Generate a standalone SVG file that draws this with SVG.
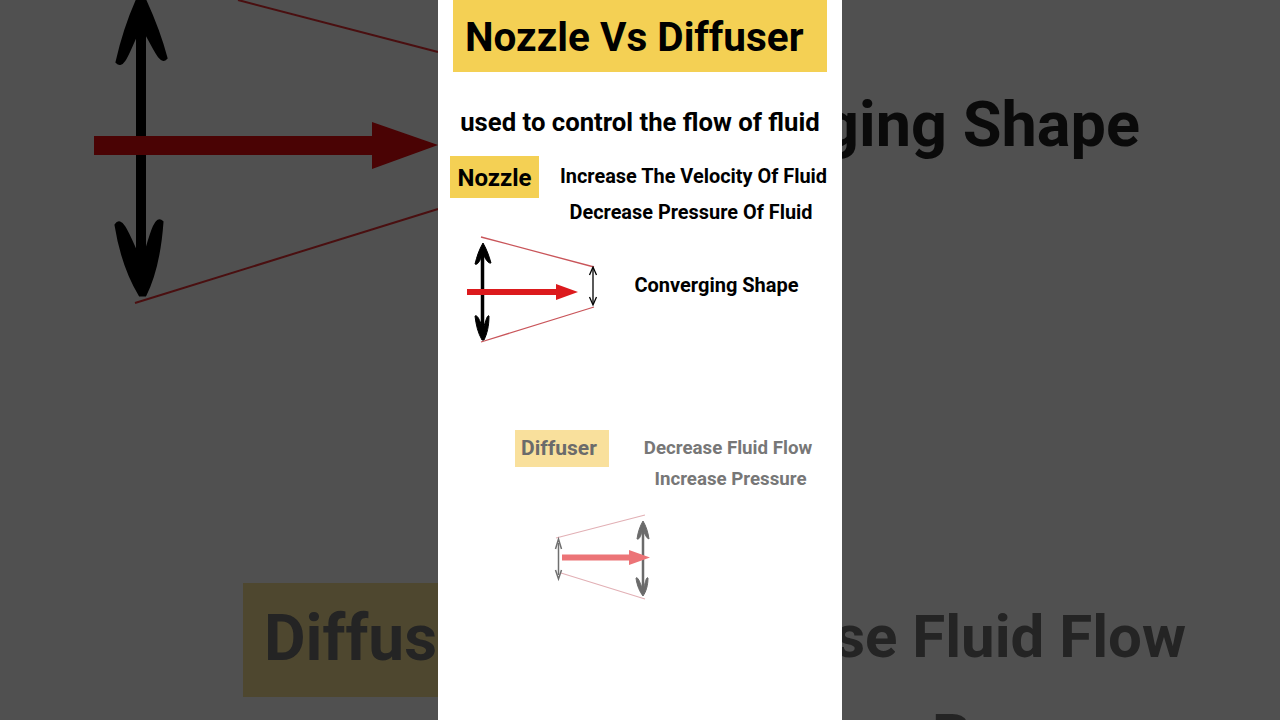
<svg xmlns="http://www.w3.org/2000/svg" width="1280" height="720" viewBox="0 0 1280 720">
<defs><style>
text{font-family:Roboto,"Liberation Sans",sans-serif;font-weight:700}
.t{fill:#000}
.f{fill:#777}
.bgt{fill:#0a0a0a}
.bgf{fill:#242424}
</style></defs>
<g id="background">
<rect width="1280" height="720" fill="#505050"/>
<path d="M238 0L438 52M135 303L438 209" stroke="#4a0f10" stroke-width="2" fill="none"/>
<path d="M141 20V285" stroke="#000" stroke-width="10" fill="none"/>
<path d="M117 62C122 40 130 15 141 -8C152 15 160 35 166 58C160 65 154 45 141 25C130 45 124 70 117 62Z" fill="#000" stroke="#000" stroke-width="3"/>
<path d="M116 225C122 215 130 240 142 265C150 240 155 215 162 222C160 250 155 275 145 295H140C128 275 120 250 116 225Z" fill="#000" stroke="#000" stroke-width="3"/>
<path d="M94 136H372V122L438 145L372 169V155H94Z" fill="#4a0304"/>
<rect x="243" y="583" width="200" height="114" fill="#4e472f"/>
<text class="bgf" x="264" y="660" font-size="64">Diffus</text>
<text class="bgt" x="1140" y="146" font-size="63" text-anchor="end">ging Shape</text>
<text class="bgf" x="1186" y="657" font-size="60" text-anchor="end">se Fluid Flow</text>
<text class="bgf" x="932" y="756" font-size="60">P</text>
</g>
<rect id="panel" x="438" width="404" height="720" fill="#fff"/>
<g id="title"><rect x="453" y="0" width="374" height="72" fill="#f4d054"/><text class="t" x="465" y="51" font-size="40.500">Nozzle Vs Diffuser</text></g>
<g id="subtitle"><text class="t" x="640" y="131" font-size="25.700" text-anchor="middle">used to control the flow of fluid</text></g>
<g id="nozzle-label"><rect x="450" y="156" width="89" height="42" fill="#f4d054"/><text class="t" x="494.500" y="186" font-size="24" text-anchor="middle">Nozzle</text></g>
<g id="nozzle-text"><text class="t" x="693.500" y="183" font-size="19.900" text-anchor="middle">Increase The Velocity Of Fluid</text><text class="t" x="691" y="218.500" font-size="19.900" text-anchor="middle">Decrease Pressure Of Fluid</text></g>
<g id="nozzle-shape-label"><text class="t" x="716.500" y="292" font-size="20" text-anchor="middle">Converging Shape</text></g>
<g id="nozzle-drawing">
<path d="M481 237L594 267M481 342L594 307" stroke="#c9555a" stroke-width="1.300" fill="none"/>
<path d="M482.500 250V333" stroke="#000" stroke-width="3.500" fill="none"/>
<path d="M475 264C477 256 479 250 483 243C487 250 489 256 491 263C488 264 485 258 483 254C481 258 478 266 475 264Z" fill="#000" stroke="#000"/>
<path d="M475 316C478 314 481 324 483 329C485 324 487 314 489 316C489 326 487 334 484 340H482C478 333 476 325 475 316Z" fill="#000" stroke="#000"/>
<path d="M467 289H556V284L578 292L556 300V295H467Z" fill="#dc1a1d"/>
<path d="M593 268V304" stroke="#000" stroke-width="1.300" fill="none"/>
<path d="M589.500 275L593 267L596.500 275M589.500 297L593 305L596.500 297" stroke="#000" stroke-width="1.300" fill="none"/>
</g>
<g id="diffuser-label"><rect x="515" y="430" width="94" height="37" fill="#f9e09c"/><text class="f" x="559" y="455" font-size="21" text-anchor="middle" style="fill:#6b6b6b">Diffuser</text></g>
<g id="diffuser-text"><text class="f" x="728" y="454" font-size="18.700" text-anchor="middle">Decrease Fluid Flow</text><text class="f" x="730.500" y="485" font-size="18.700" text-anchor="middle">Increase Pressure</text></g>
<g id="diffuser-drawing">
<path d="M556 538L645 515M561 573L645 599" stroke="#e2b0b5" stroke-width="1.100" fill="none"/>
<path d="M558.500 543V575" stroke="#6f6f6f" stroke-width="1.500" fill="none"/>
<path d="M555.500 549L558.500 539L561.500 549M555.500 570L558.500 579L561.500 570" stroke="#6f6f6f" stroke-width="1.500" fill="none"/>
<path d="M643 526V592" stroke="#6b6b6b" stroke-width="2.500" fill="none"/>
<path d="M637 539C638 532 640 526 643 521C646 526 648 532 649 539C646 538 645 534 643 530C641 534 640 540 637 539Z" fill="#6b6b6b" stroke="#6b6b6b"/>
<path d="M636 578C638 576 641 585 643 590C645 585 646 576 648 578C648 585 646 592 643 596C640 592 637 586 636 578Z" fill="#6b6b6b" stroke="#6b6b6b"/>
<path d="M562 554.500H629V550L650 557.500L629 565V560.500H562Z" fill="#ec7477"/>
</g>
</svg>
